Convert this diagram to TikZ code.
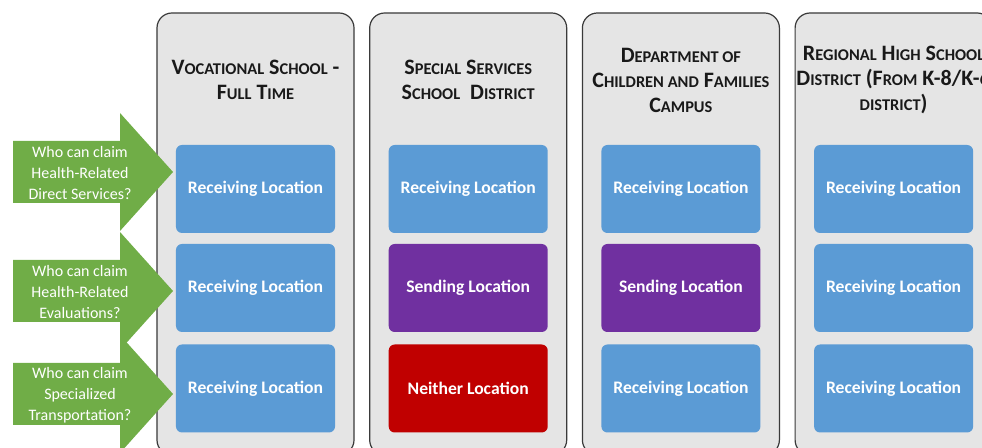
\documentclass[tikz,border=0pt]{standalone}
\usepackage{fontspec}
\setmainfont{Carlito}
\definecolor{locblue}{HTML}{5B9BD5}
\definecolor{locpurple}{HTML}{7030A0}
\definecolor{locred}{HTML}{C00000}
\definecolor{claimgreen}{HTML}{70AD47}
\definecolor{colgray}{HTML}{E5E5E5}
\definecolor{colline}{HTML}{3A3A3A}
\newcommand\smc[1]{{\fontsize{8.2bp}{12.5bp}\selectfont #1}}
\begin{document}
\begin{tikzpicture}[x=0.5bp, y=-0.5bp,
	colbox/.style={draw=colline, line width=0.6bp, fill=colgray, rounded corners=7.5bp, minimum width=98.5bp, minimum height=221bp, inner sep=0},
	head/.style={font=\fontsize{11bp}{12.5bp}\bfseries\selectfont, text=black!90, align=center},
	loc/.style={rounded corners=3bp, minimum width=79.5bp, minimum height=44bp, inner sep=0, text=white, font=\fontsize{8.8bp}{10bp}\bfseries\selectfont},
	recv/.style={loc, fill=locblue},
	send/.style={loc, fill=locpurple},
	none/.style={loc, fill=locred},
	claim/.style={fill=claimgreen},
	claimtext/.style={text=white, align=center, font=\fontsize{8bp}{10.5bp}\selectfont}]
	\useasboundingbox (0,0) rectangle (982,448);
	\clip (0,0) rectangle (982,448);
	\def\pitch{212.7}
	\def\txtrecv{Receiving Location}
	\def\txtsend{Sending Location}
	\def\txtnone{Neither Location}
	
	\foreach \i/\ka/\kb/\kc/\hd in {
		1/recv/recv/recv/{V\smc{OCATIONAL} S\smc{CHOOL} -\\F\smc{ULL} T\smc{IME}},
		2/recv/send/none/{S\smc{PECIAL} S\smc{ERVICES}\\S\smc{CHOOL}\ \ D\smc{ISTRICT}},
		3/recv/send/recv/{D\smc{EPARTMENT OF}\\C\smc{HILDREN AND} F\smc{AMILIES}\\C\smc{AMPUS}},
		4/recv/recv/recv/{R\smc{EGIONAL} H\smc{IGH} S\smc{CHOOL}\\D\smc{ISTRICT} (F\smc{ROM} K-8/K-6\\\smc{DISTRICT})}}
	{
		\node[colbox] (col\i) at ({255.5+(\i-1)*\pitch}, 234) {};
		\node[head] (head\i) at ({255.5+(\i-1)*\pitch}, 80) {\hd};
		\node[\ka] (loc\i-a) at ({255.5+(\i-1)*\pitch}, 189) {\csname txt\ka\endcsname};
		\node[\kb] (loc\i-b) at ({255.5+(\i-1)*\pitch}, 288) {\csname txt\kb\endcsname};
		\node[\kc] (loc\i-c) at ({255.5+(\i-1)*\pitch}, 388.5) {\csname txt\kc\endcsname};
	}
	
	% claim arrows
	\foreach \t/\q/\txt in {172/a/{Who can claim\\Health-Related\\Direct Services?},
		291/b/{Who can claim\\Health-Related\\Evaluations?},
		394/c/{Who can claim\\Specialized\\Transportation?}}
	{
		\fill[claim] (13,\t-31) -- (120,\t-31) -- (120,\t-59) -- (173,\t) -- (120,\t+59) -- (120,\t+31) -- (13,\t+31) -- cycle;
		\node[claimtext] (claim\q) at (80,\t+1) {\txt};
	}
	
\end{tikzpicture}
\end{document}
